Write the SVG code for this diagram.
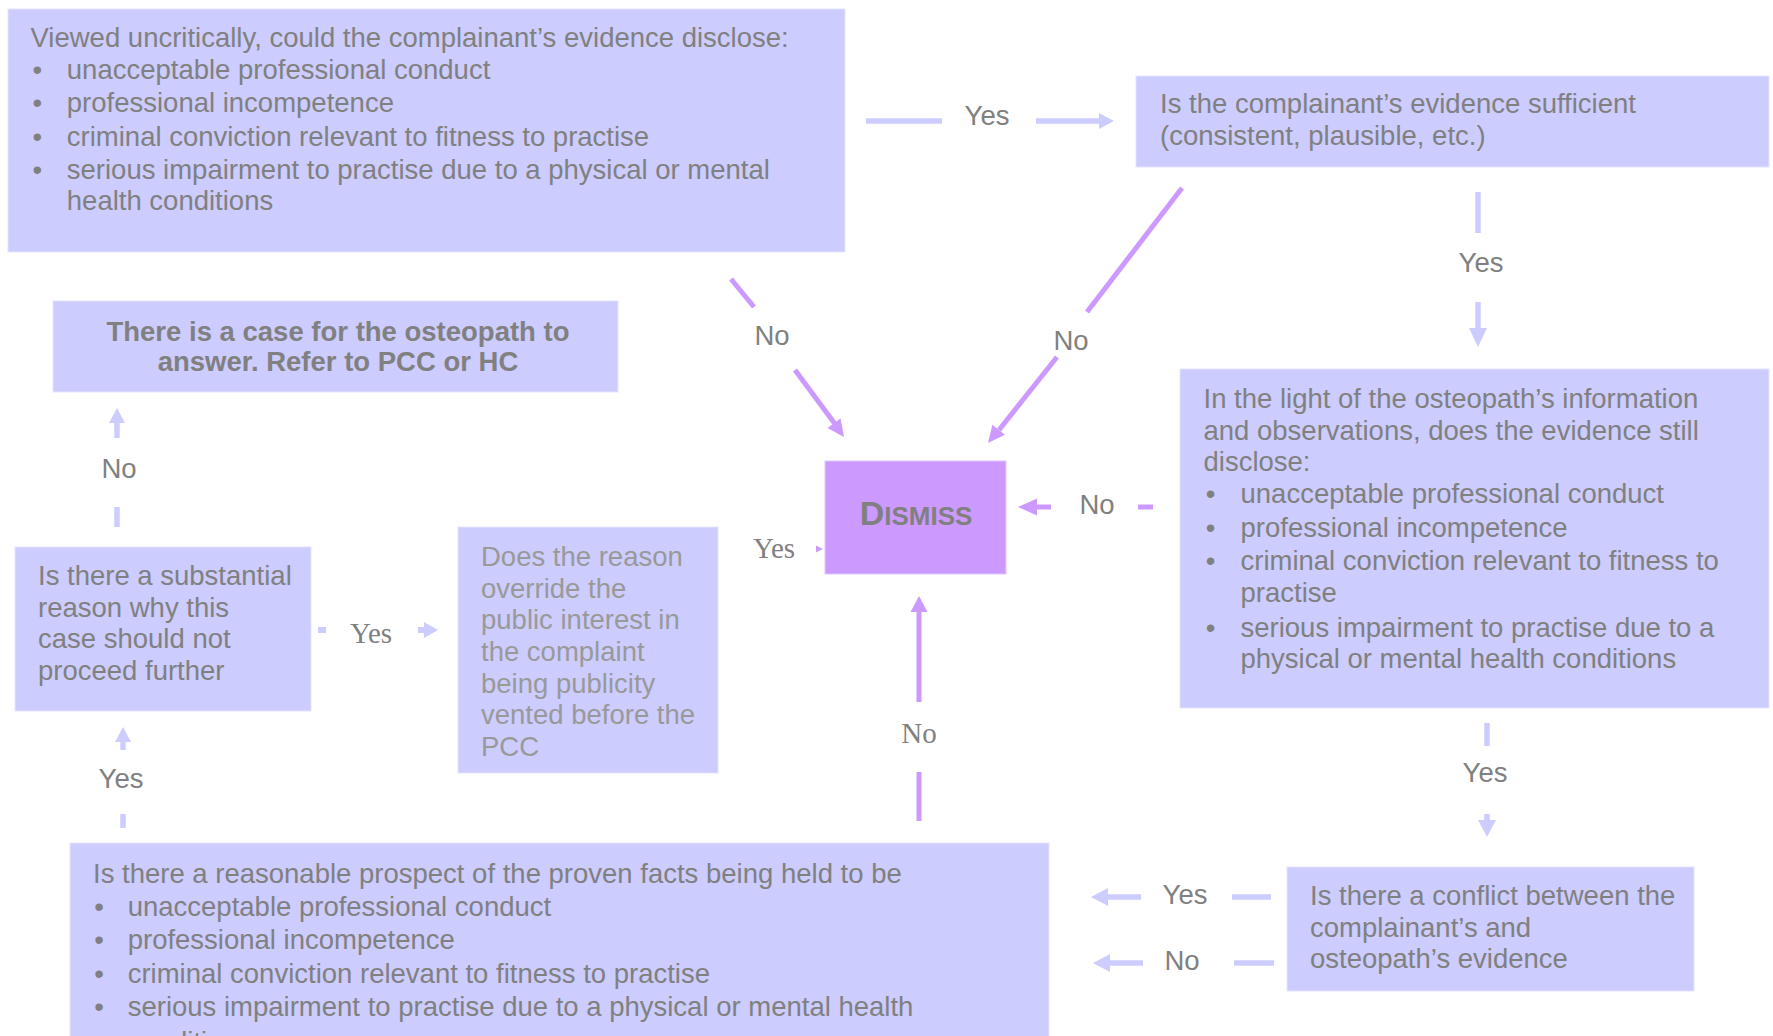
<svg xmlns="http://www.w3.org/2000/svg" width="1773" height="1036" viewBox="0 0 1773 1036">
<defs>
<style>
.box{fill:#ccccff;stroke:#e4e4ff;stroke-width:1}
.dis{fill:#cc99ff;stroke:#e0c8ff;stroke-width:1}
.t{font-family:"Liberation Sans",Arial,sans-serif;font-size:27.5px;fill:#808080}
.tl{fill:#999999}
.b{font-weight:bold}
.s{font-family:"Liberation Serif","Times New Roman",serif;font-size:29px;fill:#808080}
.bu{text-anchor:middle}
.mid{text-anchor:middle}
.lc{stroke:#ccccff;stroke-width:5.5;fill:none}
.pc{stroke:#cc99ff;stroke-width:5;fill:none}
.lh{fill:#ccccff}
.ph{fill:#cc99ff}
</style>
</defs>
<rect width="1773" height="1036" fill="#ffffff"/>

<g id="connectors">
  <!-- box1 -> box2 Yes -->
  <line class="lc" x1="866" y1="121" x2="942" y2="121"/>
  <text class="t mid" x="987" y="125">Yes</text>
  <line class="lc" x1="1036" y1="121" x2="1100" y2="121"/>
  <polygon class="lh" points="1099,113 1114,121 1099,129"/>
  <!-- box2 -> light box Yes -->
  <line class="lc" x1="1478" y1="192" x2="1478" y2="233"/>
  <text class="t mid" x="1481" y="272">Yes</text>
  <line class="lc" x1="1478" y1="302" x2="1478" y2="329"/>
  <polygon class="lh" points="1469,328 1487,328 1478,347"/>
  <!-- box1 -> dismiss No -->
  <line class="pc" x1="731" y1="279" x2="754" y2="307"/>
  <text class="t mid" x="772" y="345">No</text>
  <line class="pc" x1="795" y1="370" x2="835" y2="424"/>
  <polygon class="ph" points="844,437 827.5,428 840.5,418.6"/>
  <!-- box2 -> dismiss No -->
  <line class="pc" x1="1182" y1="188" x2="1087" y2="312"/>
  <text class="t mid" x="1071" y="350">No</text>
  <line class="pc" x1="1057" y1="357" x2="999" y2="430"/>
  <polygon class="ph" points="988,443 1004.9,434.7 992.4,424.7"/>
  <!-- light box -> dismiss No -->
  <line class="pc" x1="1138" y1="507" x2="1153" y2="507"/>
  <text class="t mid" x="1097" y="514">No</text>
  <line class="pc" x1="1036" y1="507" x2="1051" y2="507"/>
  <polygon class="ph" points="1018,507 1037,498.5 1037,515.5"/>
  <!-- light box -> conflict Yes -->
  <line class="lc" x1="1487" y1="723" x2="1487" y2="746"/>
  <text class="t mid" x="1485" y="782">Yes</text>
  <line class="lc" x1="1487" y1="814" x2="1487" y2="822"/>
  <polygon class="lh" points="1478,820 1496,820 1487,837"/>
  <!-- conflict -> bottom Yes -->
  <line class="lc" x1="1232" y1="897" x2="1271" y2="897"/>
  <text class="t mid" x="1185" y="904">Yes</text>
  <line class="lc" x1="1107" y1="897" x2="1141" y2="897"/>
  <polygon class="lh" points="1091,897 1108,888 1108,906"/>
  <!-- conflict -> bottom No -->
  <line class="lc" x1="1234" y1="963" x2="1274" y2="963"/>
  <text class="t mid" x="1182" y="970">No</text>
  <line class="lc" x1="1109" y1="963" x2="1143" y2="963"/>
  <polygon class="lh" points="1093,963 1110,954 1110,972"/>
  <!-- bottom -> dismiss No -->
  <line class="pc" x1="919" y1="772" x2="919" y2="821"/>
  <text class="s mid" x="919" y="743">No</text>
  <line class="pc" x1="919" y1="611" x2="919" y2="702"/>
  <polygon class="ph" points="910.5,612 927.5,612 919,596"/>
  <!-- bottom -> substantial Yes -->
  <line class="lc" x1="123" y1="814" x2="123" y2="828"/>
  <text class="t mid" x="121" y="788">Yes</text>
  <line class="lc" x1="123" y1="741" x2="123" y2="750"/>
  <polygon class="lh" points="115,742 131,742 123,727"/>
  <!-- substantial -> case No -->
  <line class="lc" x1="117" y1="507" x2="117" y2="527"/>
  <text class="t mid" x="119" y="478">No</text>
  <line class="lc" x1="117" y1="422" x2="117" y2="438"/>
  <polygon class="lh" points="109,423 125,423 117,408"/>
  <!-- substantial -> reason Yes -->
  <rect class="lh" x="318" y="627" width="8" height="6"/>
  <text class="s mid tl" x="371" y="643">Yes</text>
  <rect class="lh" x="418" y="627" width="7" height="6"/>
  <polygon class="lh" points="424,622 438,630 424,638"/>
  <!-- reason -> dismiss Yes -->
  <text class="s mid" x="774" y="558">Yes</text>
  <polygon class="ph" points="816,545.5 823,549 816,552.5"/>
</g>

<g id="n-uncritical">
  <rect class="box" x="8" y="9" width="837" height="243"/>
  <text class="t" x="30.5" y="46.7">Viewed uncritically, could the complainant’s evidence disclose:</text>
  <text class="t bu" x="37.3" y="79">•</text>
  <text class="t" x="66.8" y="79">unacceptable professional conduct</text>
  <text class="t bu" x="37.3" y="112.3">•</text>
  <text class="t" x="66.8" y="112.3">professional incompetence</text>
  <text class="t bu" x="37.3" y="145.7">•</text>
  <text class="t" x="66.8" y="145.7">criminal conviction relevant to fitness to practise</text>
  <text class="t bu" x="37.3" y="179">•</text>
  <text class="t" x="66.8" y="179">serious impairment to practise due to a physical or mental</text>
  <text class="t" x="66.8" y="210">health conditions</text>
</g>

<g id="n-sufficient">
  <rect class="box" x="1136" y="76" width="633" height="91"/>
  <text class="t" x="1160" y="113.3">Is the complainant’s evidence sufficient</text>
  <text class="t" x="1160" y="145">(consistent, plausible, etc.)</text>
</g>

<g id="n-case">
  <rect class="box" x="53" y="301" width="565" height="91"/>
  <text class="t b mid" x="338" y="340.7">There is a case for the osteopath to</text>
  <text class="t b mid" x="338" y="371">answer. Refer to PCC or HC</text>
</g>

<g id="n-dismiss">
  <rect class="dis" x="825" y="461" width="181" height="113"/>
  <text class="t b mid" x="916" y="525"><tspan font-size="34">D</tspan><tspan font-size="26">ISMISS</tspan></text>
</g>

<g id="n-light">
  <rect class="box" x="1180" y="369" width="589" height="339"/>
  <text class="t" x="1203.5" y="408.3">In the light of the osteopath’s information</text>
  <text class="t" x="1203.5" y="439.5">and observations, does the evidence still</text>
  <text class="t" x="1203.5" y="470.5">disclose:</text>
  <text class="t bu" x="1210.5" y="503.3">•</text>
  <text class="t" x="1240.5" y="503.3">unacceptable professional conduct</text>
  <text class="t bu" x="1210.5" y="536.7">•</text>
  <text class="t" x="1240.5" y="536.7">professional incompetence</text>
  <text class="t bu" x="1210.5" y="570">•</text>
  <text class="t" x="1240.5" y="570">criminal conviction relevant to fitness to</text>
  <text class="t" x="1240.5" y="601.7">practise</text>
  <text class="t bu" x="1210.5" y="636.7">•</text>
  <text class="t" x="1240.5" y="636.7">serious impairment to practise due to a</text>
  <text class="t" x="1240.5" y="668.3">physical or mental health conditions</text>
</g>

<g id="n-substantial">
  <rect class="box" x="15" y="547" width="296" height="164"/>
  <text class="t" x="38" y="585">Is there a substantial</text>
  <text class="t" x="38" y="616.7">reason why this</text>
  <text class="t" x="38" y="648.3">case should not</text>
  <text class="t" x="38" y="680">proceed further</text>
</g>

<g id="n-reason">
  <rect class="box" x="458" y="527" width="260" height="246"/>
  <text class="t tl" x="481" y="566">Does the reason</text>
  <text class="t tl" x="481" y="597.7">override the</text>
  <text class="t tl" x="481" y="629.3">public interest in</text>
  <text class="t tl" x="481" y="661">the complaint</text>
  <text class="t tl" x="481" y="692.7">being publicity</text>
  <text class="t tl" x="481" y="724.3">vented before the</text>
  <text class="t tl" x="481" y="756">PCC</text>
</g>

<g id="n-conflict">
  <rect class="box" x="1287" y="867" width="407" height="124"/>
  <text class="t" x="1310" y="905">Is there a conflict between the</text>
  <text class="t" x="1310" y="936.7">complainant’s and</text>
  <text class="t" x="1310" y="968.3">osteopath’s evidence</text>
</g>

<g id="n-prospect">
  <rect class="box" x="70" y="843" width="979" height="200"/>
  <text class="t" x="93" y="883.3">Is there a reasonable prospect of the proven facts being held to be</text>
  <text class="t bu" x="99" y="916">•</text>
  <text class="t" x="127.7" y="916">unacceptable professional conduct</text>
  <text class="t bu" x="99" y="949.3">•</text>
  <text class="t" x="127.7" y="949.3">professional incompetence</text>
  <text class="t bu" x="99" y="982.7">•</text>
  <text class="t" x="127.7" y="982.7">criminal conviction relevant to fitness to practise</text>
  <text class="t bu" x="99" y="1016">•</text>
  <text class="t" x="127.7" y="1016">serious impairment to practise due to a physical or mental health</text>
  <text class="t" x="127.7" y="1051">conditions</text>
</g>
</svg>
